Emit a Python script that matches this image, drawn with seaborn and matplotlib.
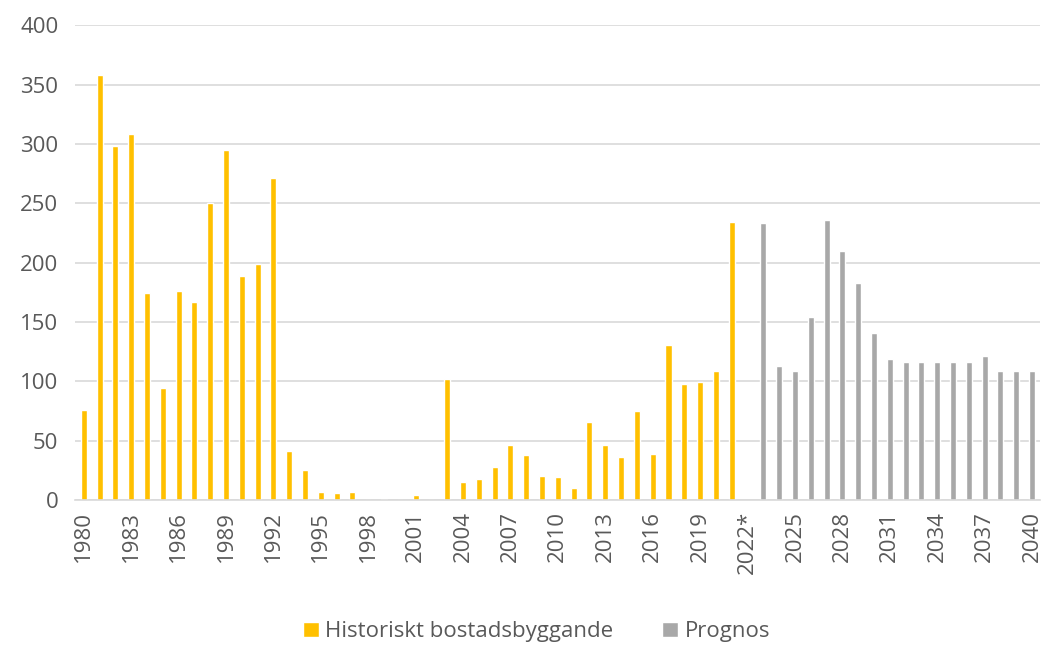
# Dependencies
import numpy as np
import pandas as pd
import matplotlib.pyplot as plt
import seaborn as sns

# Data
hist_years = list(range(1980, 2022))
hist_values = [76, 358, 298, 308, 174, 94, 176, 167, 250, 295,
               189, 199, 271, 41, 25, 7, 6, 7, 0, 1,
               0, 4, 0.3, 102, 15, 18, 28, 46, 38, 20,
               19, 10, 66, 46, 36, 75, 39, 131, 98, 99,
               109, 234]
prog_years = list(range(2023, 2041))
prog_values = [233, 113, 109, 154, 236, 210, 183, 141, 119, 116,
               116, 116, 116, 116, 121, 109, 109, 109]
all_years = list(range(1980, 2041))
year_labels = [f'{y}*' if y == 2022 else str(y) for y in all_years]
series_names = ['Historiskt bostadsbyggande', 'Prognos']
colors = ['#FFC000', '#A8A8A8']

df = pd.DataFrame({
    'year': [str(y) for y in hist_years] + [str(y) for y in prog_years],
    'value': hist_values + prog_values,
    'series': [series_names[0]] * len(hist_years) + [series_names[1]] * len(prog_years),
})

sns.set_style('white')
plt.rcParams['font.family'] = ['Open Sans', 'DejaVu Sans']
text_color = '#595959'

fig = plt.figure(figsize=(10.42, 6.46), dpi=100)
ax = fig.add_axes([0.072, 0.226, 0.926, 0.735])

order = [str(y) for y in all_years]
sns.barplot(data=df, x='year', y='value', hue='series', order=order,
            hue_order=series_names, palette=colors, dodge=False,
            width=0.38, saturation=1, ax=ax, legend=True)

ax.set_xlim(-0.55, 60.5)
ax.set_ylim(0, 400)
ax.set_yticks(range(0, 401, 50))
ax.yaxis.grid(True, color='#D9D9D9', linewidth=1.2)
ax.set_axisbelow(True)
ax.set_xticks(range(0, 61, 3))
ax.set_xticklabels([year_labels[i] for i in range(0, 61, 3)], rotation=90)
ax.tick_params(axis='both', length=0, labelsize=16, labelcolor=text_color)
ax.tick_params(axis='y', pad=12)
ax.tick_params(axis='x', pad=8)
ax.set_xlabel('')
ax.set_ylabel('')
for side in ['top', 'right', 'left']:
    ax.spines[side].set_visible(False)
ax.spines['bottom'].set_color('#D9D9D9')
ax.spines['bottom'].set_linewidth(1.2)

handles, labels = ax.get_legend_handles_labels()
ax.get_legend().remove()
fig.legend(handles, labels, loc='center', bbox_to_anchor=(0.515, 0.022),
           ncol=2, frameon=False, fontsize=16, labelcolor=text_color,
           handlelength=0.7, handleheight=0.7, handletextpad=0.3,
           columnspacing=2.2)

plt.savefig('out.png', dpi=100)
